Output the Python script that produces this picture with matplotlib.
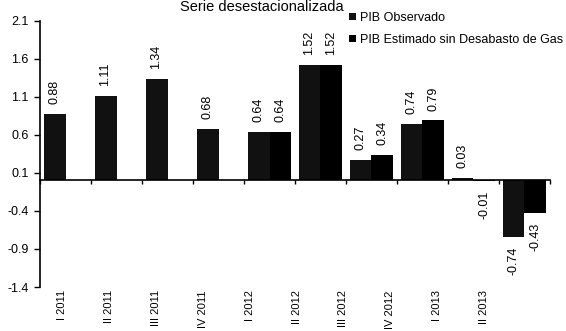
import numpy as np
import matplotlib
matplotlib.use("Agg")
import matplotlib.pyplot as plt
import matplotlib.transforms as mtransforms

plt.rcParams.update({
    "font.family": ["Liberation Sans", "DejaVu Sans"],
    "font.size": 9,
})

categories = ["I 2011", "II 2011", "III 2011", "IV 2011", "I 2012",
              "II 2012", "III 2012", "IV 2012", "I 2013", "II 2013"]
observado = [0.88, 1.11, 1.34, 0.68, 0.64, 1.52, 0.27, 0.74, 0.03, -0.74]
estimado = [np.nan, np.nan, np.nan, np.nan, 0.64, 1.52, 0.34, 0.79, -0.01, -0.43]
yticks = [2.1, 1.6, 1.1, 0.6, 0.1, -0.4, -0.9, -1.4]

fig = plt.figure(figsize=(5.66, 3.31), dpi=100)
ax = fig.add_axes([0.0707, 0.1329, 0.901, 0.8046])

x = np.arange(len(categories))
w = 0.43
ax.bar(x - w / 2, observado, w, color="#111111", label="PIB Observado")
ax.bar(x + w / 2, estimado, w, color="#000000",
       label="PIB Estimado sin Desabasto de Gas")

# rotated value labels
for xs, vals in ((x - w / 2, observado), (x + w / 2, estimado)):
    for xi, v in zip(xs, vals):
        if np.isnan(v):
            continue
        off = 7 if v >= 0 else -7
        ax.annotate(f"{v:.2f}", (xi, v), xytext=(0, off), textcoords="offset points",
                    rotation=90, ha="center", va="bottom" if v >= 0 else "top",
                    fontsize=9)

ax.set_xlim(-0.5, len(categories) - 0.5)
ax.set_ylim(-1.4, 2.1)
ax.set_yticks(yticks)
ax.set_yticklabels([f"{t:.1f}" for t in yticks], fontsize=9)

for s in ("top", "right"):
    ax.spines[s].set_visible(False)
ax.spines["bottom"].set_position(("data", 0))
ax.spines["left"].set_linewidth(1.2)
ax.spines["bottom"].set_linewidth(1.2)

ax.set_xticks(np.arange(-0.5, len(categories), 1.0))
ax.set_xticklabels([])
ax.tick_params(axis="x", direction="out", length=3, width=1)
ax.tick_params(axis="y", direction="out", length=4, width=1, pad=4)

# category labels below the plot
trans = mtransforms.blended_transform_factory(ax.transData, ax.transAxes)
for i, lab in enumerate(categories):
    ax.text(-0.07 + 0.92 * i, -0.012, lab, transform=trans, rotation=90,
            ha="center", va="top", fontsize=8)

fig.text(262 / 566, 1 - 11 / 331, "Serie desestacionalizada", ha="center",
         va="baseline", fontsize=10.5)

ax.legend(loc="upper left", bbox_to_anchor=(349 / 566, 1 - 12 / 331),
          bbox_transform=fig.transFigure, frameon=False, fontsize=9,
          handlelength=0.55, handleheight=0.55, handletextpad=0.35,
          labelspacing=0.8, borderpad=0, borderaxespad=0)

fig.savefig("out.png", dpi=100)
